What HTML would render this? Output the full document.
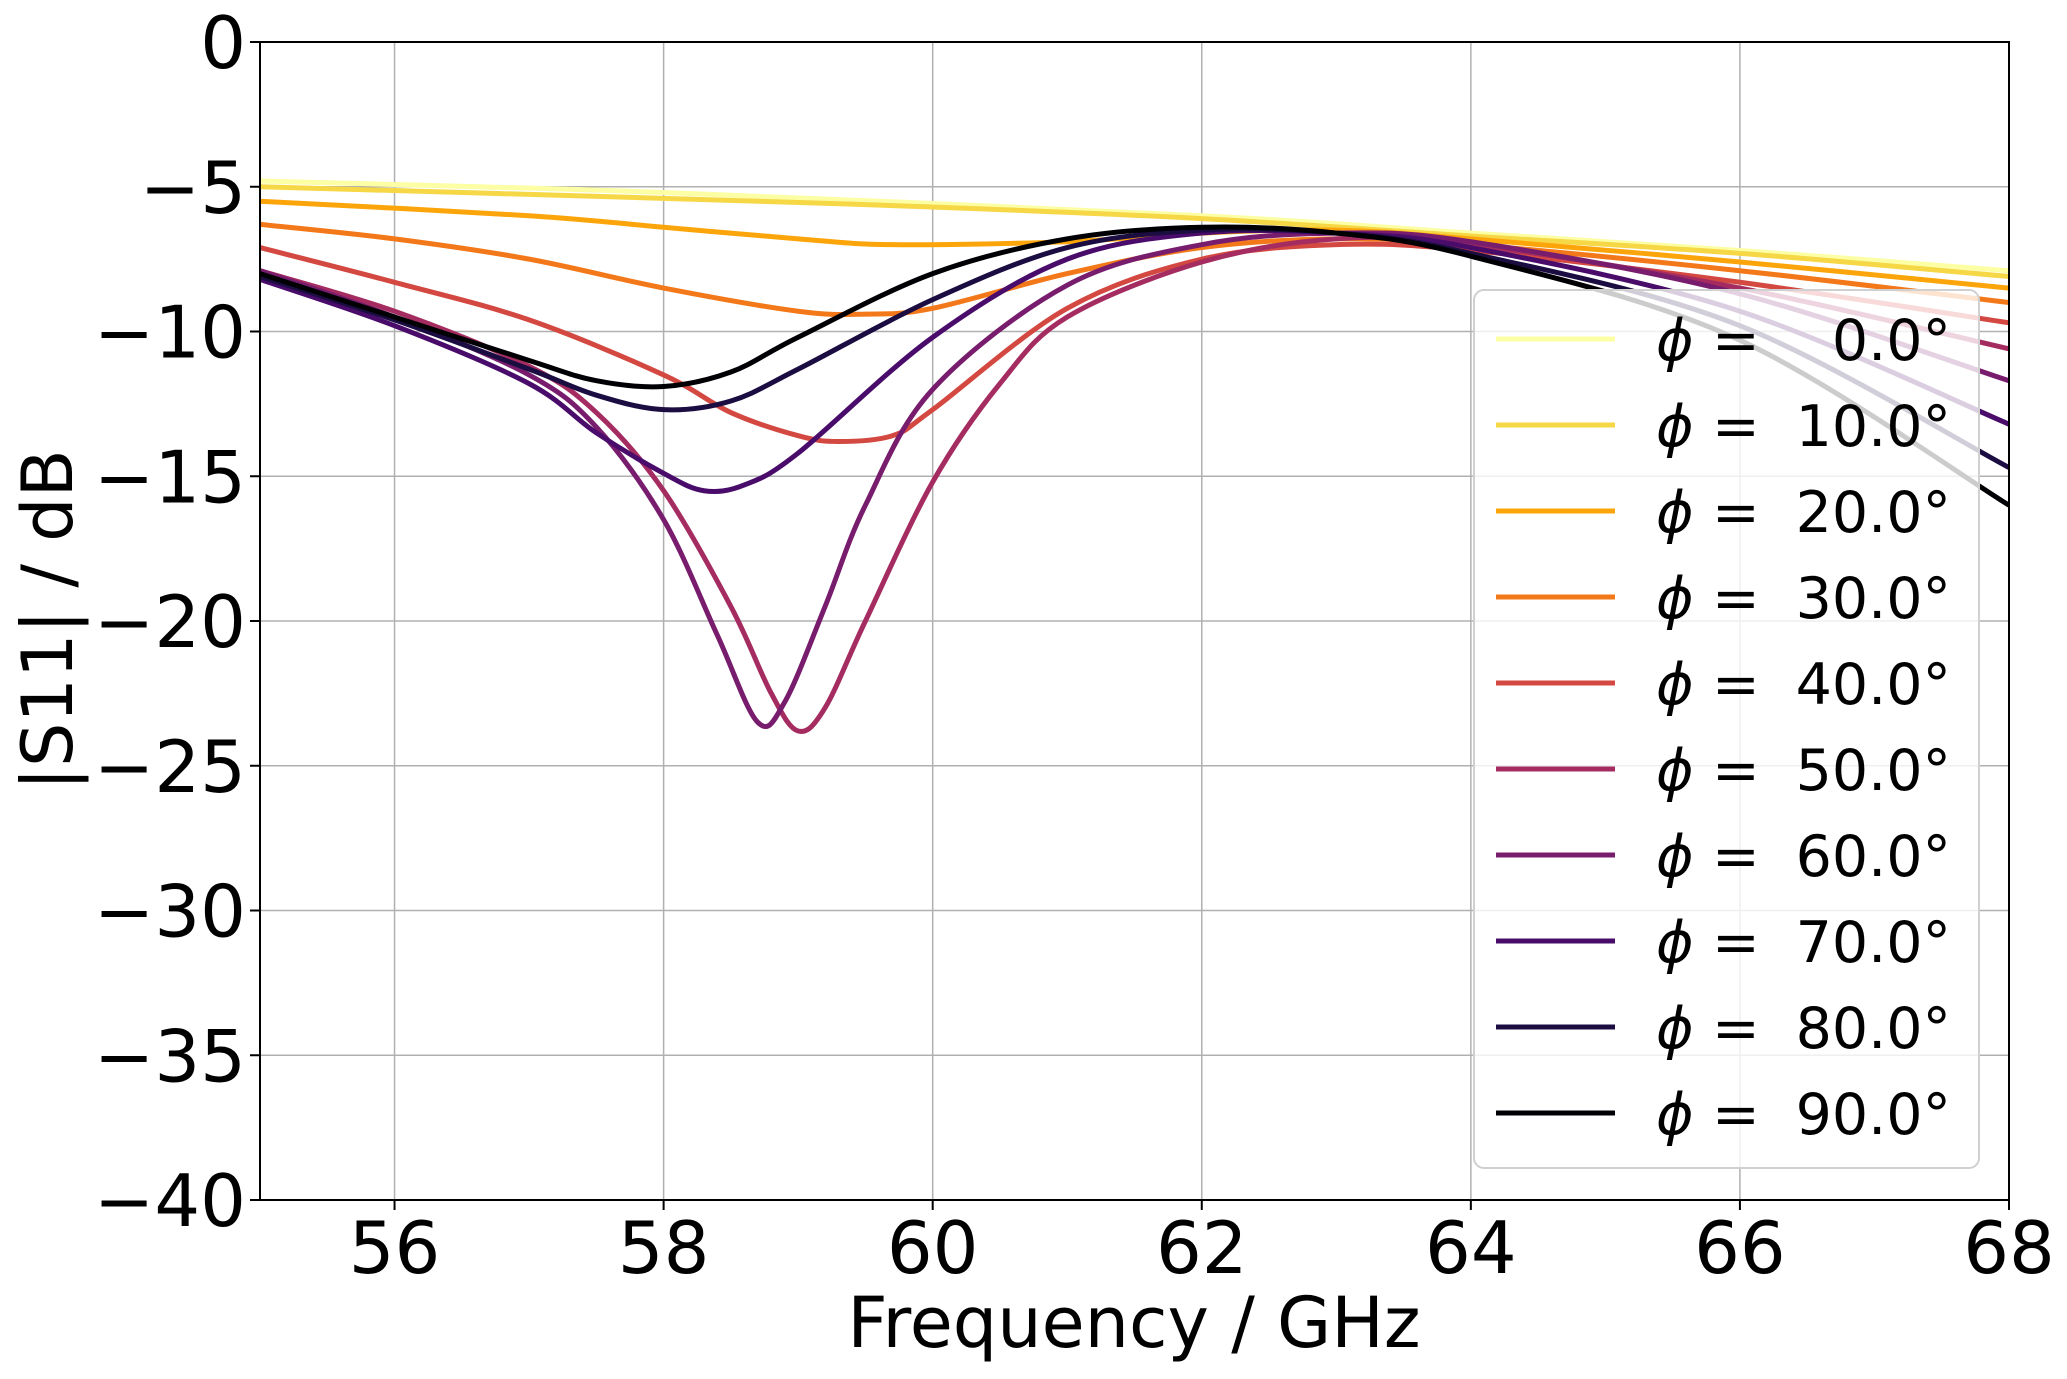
<!DOCTYPE html>
<html><head><meta charset="utf-8">
<style>
html,body{margin:0;padding:0;background:#fff;}
svg{display:block;}
text{font-family:"DejaVu Sans","Liberation Sans",sans-serif;fill:#000;}
</style></head>
<body>
<svg id="s" width="2067" height="1379" xmlns="http://www.w3.org/2000/svg">
<defs><clipPath id="c"><rect x="260" y="42" width="1749" height="1158"/></clipPath></defs>
<g id="grid"></g>
<g id="curves" clip-path="url(#c)"></g>
<rect x="260" y="42" width="1749" height="1158" fill="none" stroke="#000" stroke-width="2"/>
<g id="ticks"></g>
<text x="1134" y="1347" font-size="70" text-anchor="middle">Frequency / GHz</text>
<text transform="translate(72,620) rotate(-90)" font-size="70" text-anchor="middle">|S11| / dB</text>
<g id="legend"></g>
</svg>
<script>
const X0=260,X1=2009,Y0=42,Y1=1200;
const fx=f=>X0+(f-55)*(X1-X0)/13, fy=d=>Y0+(-d)*(Y1-Y0)/40;
const NS="http://www.w3.org/2000/svg";
function el(p,t,a,txt){const e=document.createElementNS(NS,t);for(const k in a)e.setAttribute(k,a[k]);if(txt!==undefined)e.textContent=txt;document.getElementById(p).appendChild(e);return e;}
for(let f=56;f<=68;f+=2){const x=fx(f);el('grid','line',{x1:x,x2:x,y1:Y0,y2:Y1,stroke:'#b0b0b0','stroke-width':1.5});
 el('ticks','line',{x1:x,x2:x,y1:Y1,y2:Y1+10,stroke:'#000','stroke-width':2});
 el('ticks','text',{x:x,y:1273,'font-size':72,'text-anchor':'middle'},String(f));}
for(let d=0;d>=-40;d-=5){const y=fy(d);el('grid','line',{x1:X0,x2:X1,y1:y,y2:y,stroke:'#b0b0b0','stroke-width':1.5});
 el('ticks','line',{x1:X0-10,x2:X0,y1:y,y2:y,stroke:'#000','stroke-width':2});
 el('ticks','text',{x:246,y:y+26,'font-size':72,'text-anchor':'end'},d==0?'0':'\u2212'+(-d));}
const cols=['#fcffa4','#f6d746','#fca50a','#f37819','#d44842','#a52c60','#781c6d','#4a0c6b','#1b0c41','#000004'];
const data=[
[[55,-4.8],[58,-5.2],[62,-6.0],[64,-6.6],[66,-7.2],[68,-7.9]],
[[55,-5.0],[58,-5.4],[60,-5.7],[62,-6.1],[64,-6.7],[66,-7.3],[68,-8.1]],
[[55,-5.5],[57,-6.0],[58,-6.4],[59,-6.8],[59.7,-7.0],[61,-6.9],[62,-6.6],[63,-6.5],[64,-6.8],[66,-7.6],[68,-8.5]],
[[55,-6.3],[56,-6.8],[57,-7.5],[58,-8.5],[59,-9.3],[59.5,-9.4],[60,-9.2],[61,-8.0],[62,-7.1],[63,-6.8],[64,-7.0],[66,-7.9],[68,-9.0]],
[[55,-7.1],[56,-8.3],[57,-9.6],[58,-11.5],[58.5,-12.8],[59,-13.6],[59.3,-13.8],[59.7,-13.6],[60,-12.7],[61,-9.2],[62,-7.5],[63,-7.0],[64,-7.2],[66,-8.3],[68,-9.7]],
[[55,-7.9],[56,-9.3],[57,-11.2],[57.5,-12.8],[58,-15.5],[58.5,-19.5],[58.8,-22.5],[59,-23.8],[59.2,-23.0],[59.5,-20.0],[60,-15.2],[60.5,-11.8],[61,-9.5],[62,-7.6],[63,-6.8],[64,-7.0],[66,-8.5],[68,-10.6]],
[[55,-7.9],[56,-9.5],[57,-11.5],[57.5,-13.3],[58,-16.5],[58.4,-20.5],[58.7,-23.5],[58.9,-22.8],[59.2,-19.5],[59.5,-16.0],[60,-12.0],[61,-8.4],[62,-7.0],[63,-6.6],[64,-6.9],[66,-8.7],[68,-11.7]],
[[55,-8.2],[56,-9.8],[57,-11.8],[57.5,-13.5],[58,-14.9],[58.3,-15.5],[58.6,-15.3],[59,-14.2],[60,-10.2],[61,-7.5],[62,-6.6],[63,-6.6],[64,-7.1],[66,-9.3],[68,-13.2]],
[[55,-8.1],[56,-9.6],[57,-11.3],[57.5,-12.2],[58,-12.7],[58.5,-12.4],[59,-11.3],[60,-8.9],[61,-7.1],[62,-6.5],[63,-6.6],[64,-7.3],[66,-9.8],[68,-14.7]],
[[55,-8.0],[56,-9.5],[57,-11.0],[57.5,-11.7],[58,-11.9],[58.5,-11.4],[59,-10.2],[60,-8.0],[61,-6.8],[62,-6.4],[63,-6.6],[64,-7.4],[66,-10.3],[68,-16.0]]];
function path(pts){const p=pts.map(q=>[fx(q[0]),fy(q[1])]);let d='M'+p[0][0]+' '+p[0][1];
 for(let i=0;i<p.length-1;i++){const a=p[Math.max(0,i-1)],b=p[i],c=p[i+1],e=p[Math.min(p.length-1,i+2)];
  const c1=[b[0]+(c[0]-a[0])/6,b[1]+(c[1]-a[1])/6],c2=[c[0]-(e[0]-b[0])/6,c[1]-(e[1]-b[1])/6];
  d+=' C'+c1.join(' ')+' '+c2.join(' ')+' '+c.join(' ');}return d;}
data.forEach((pts,i)=>el('curves','path',{d:path(pts),fill:'none',stroke:cols[i],'stroke-width':5,'stroke-linejoin':'round'}));
el('legend','rect',{x:1474,y:290,width:505,height:878,rx:10,fill:'rgba(255,255,255,0.8)',stroke:'#d0d0d0','stroke-width':2});
for(let i=0;i<10;i++){const y=339+i*86;
 el('legend','line',{x1:1496,x2:1615,y1:y,y2:y,stroke:cols[i],'stroke-width':5});
 el('legend','text',{x:1656,y:y+21,'font-size':57,'font-style':'italic'},'\u03d5');
 el('legend','text',{x:1712,y:y+21,'font-size':57},'=');
 el('legend','text',{x:1951,y:y+21,'font-size':57,'text-anchor':'end'},(i*10).toFixed(1)+'\u00b0');}
</script>
</body></html>
